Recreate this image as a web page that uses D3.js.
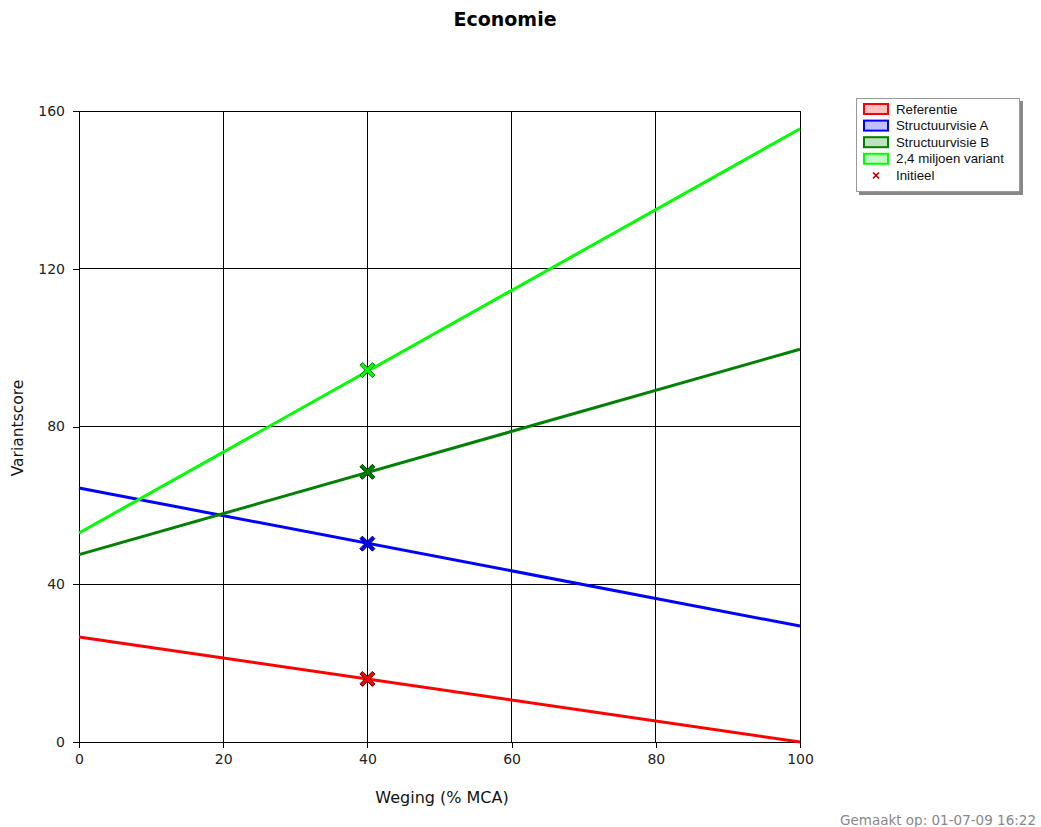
<!DOCTYPE html>
<html>
<head>
<meta charset="utf-8">
<script src="https://cdn.jsdelivr.net/npm/d3@7"></script>
<style>
  html, body { margin: 0; padding: 0; background: #fff; }
  svg { display: block; }
</style>
</head>
<body>
<svg id="chart" width="1041" height="827"></svg>
<script>
// Weights at the ends of each line (% MCA)
const weights = [0, 100];
// Score of each variant at weight 0 and weight 100
const seriesNames = ["Referentie", "Structuurvisie A", "Structuurvisie B", "2,4 miljoen variant"];
const referentie = [26.6, 0];
const structuurvisieA = [64.4, 29.4];
const structuurvisieB = [47.5, 99.6];
const miljoenVariant = [53.0, 155.5];
// Initial weight and the score of each variant at it
const initialWeight = 40;
const initialScores = [16.0, 50.3, 68.5, 94.3];
// Axis ticks
const xTicks = [0, 20, 40, 60, 80, 100];
const yTicks = [0, 40, 80, 120, 160];

const lineColors = ["#ff0000", "#0000ff", "#008000", "#00ff00"];
const fillColors = ["#ffc0c0", "#c0c0ff", "#c0e0c0", "#c0ffc0"];
const markerStroke = ["#700000", "#000070", "#004000", "#207020"];
const seriesValues = [referentie, structuurvisieA, structuurvisieB, miljoenVariant];

const svg = d3.select("#chart");
const plot = { left: 79, right: 800, top: 111, bottom: 742 };

const x = d3.scaleLinear().domain([0, 100]).range([plot.left, plot.right]);
const y = d3.scaleLinear().domain([0, 160]).range([plot.bottom, plot.top]);

const font = "'DejaVu Sans', Verdana, sans-serif";

// Title
svg.append("text")
  .attr("x", 505).attr("y", 26)
  .attr("text-anchor", "middle")
  .style("font-family", font)
  .style("font-weight", "bold")
  .style("font-size", "19px")
  .text("Economie");

// Grid lines
const grid = svg.append("g").attr("shape-rendering", "crispEdges");
grid.selectAll(".gx").data(xTicks.filter(d => d > 0)).enter().append("line")
  .attr("x1", d => x(d)).attr("x2", d => x(d))
  .attr("y1", plot.top).attr("y2", plot.bottom)
  .attr("stroke", "#000").attr("stroke-width", 1);
grid.selectAll(".gy").data(yTicks.filter(d => d > 0)).enter().append("line")
  .attr("x1", plot.left).attr("x2", plot.right)
  .attr("y1", d => y(d)).attr("y2", d => y(d))
  .attr("stroke", "#000").attr("stroke-width", 1);

// Axes
const xAxis = svg.append("g")
  .attr("transform", `translate(0,${plot.bottom})`)
  .attr("shape-rendering", "crispEdges")
  .call(d3.axisBottom(x).tickValues(xTicks).tickSize(6).tickPadding(6));
const yAxis = svg.append("g")
  .attr("transform", `translate(${plot.left},0)`)
  .attr("shape-rendering", "crispEdges")
  .call(d3.axisLeft(y).tickValues(yTicks).tickSize(6).tickPadding(8));
[xAxis, yAxis].forEach(a => {
  a.select(".domain").attr("stroke", "#000").attr("d", null);
  a.selectAll(".tick line").attr("stroke", "#000");
  a.selectAll("text")
    .style("font-family", font)
    .style("font-size", "14px")
    .attr("fill", "#222");
});
// Axis lines through the full plot extent
xAxis.append("line").attr("x1", plot.left - 6).attr("x2", plot.right).attr("y1", 0).attr("y2", 0).attr("stroke", "#000");
yAxis.append("line").attr("x1", 0).attr("x2", 0).attr("y1", plot.top).attr("y2", plot.bottom + 6).attr("stroke", "#000");

// Axis titles
svg.append("text")
  .attr("x", 442).attr("y", 803)
  .attr("text-anchor", "middle")
  .style("font-family", font)
  .style("font-size", "16px")
  .attr("fill", "#111")
  .text("Weging (% MCA)");
svg.append("text")
  .attr("transform", "translate(23,428) rotate(-90)")
  .attr("text-anchor", "middle")
  .style("font-family", font)
  .style("font-size", "15.5px")
  .attr("fill", "#111")
  .text("Variantscore");

// Variant lines
const line = d3.line().x(d => x(d[0])).y(d => y(d[1]));
seriesValues.forEach((vals, i) => {
  svg.append("path")
    .datum(weights.map((w, j) => [w, vals[j]]))
    .attr("d", line)
    .attr("fill", "none")
    .attr("stroke", lineColors[i])
    .attr("stroke-width", 3);
});

// Initial-weight markers (thick crosses)
const crossPath = (cx, cy, r, w) => {
  const h = w / 2;
  const p = [
    [-r, -r + h], [-r + h, -r], [0, -h], [r - h, -r], [r, -r + h], [h, 0],
    [r, r - h], [r - h, r], [0, h], [-r + h, r], [-r, r - h], [-h, 0]
  ];
  return "M" + p.map(q => [cx + q[0], cy + q[1]].join(",")).join("L") + "Z";
};
initialScores.forEach((v, i) => {
  svg.append("path")
    .attr("d", crossPath(x(initialWeight), y(v), 7.5, 5))
    .attr("fill", lineColors[i])
    .attr("stroke", markerStroke[i])
    .attr("stroke-width", 1);
});

// Legend
const legend = svg.append("g").attr("transform", "translate(856,98)");
legend.append("rect")
  .attr("x", 3).attr("y", 3).attr("width", 164).attr("height", 94)
  .attr("fill", "#888");
legend.append("rect")
  .attr("x", 0.5).attr("y", 0.5).attr("width", 163).attr("height", 93)
  .attr("fill", "#fff").attr("stroke", "#999");
const rowY = d => 11 + d * 16.6;
const legendFont = "'Liberation Sans', Arial, sans-serif";
seriesNames.forEach((name, i) => {
  legend.append("rect")
    .attr("x", 8).attr("y", rowY(i) - 5).attr("width", 24).attr("height", 10)
    .attr("fill", fillColors[i]).attr("stroke", lineColors[i]).attr("stroke-width", 2);
  legend.append("text")
    .attr("x", 40).attr("y", rowY(i) + 4.5)
    .style("font-family", legendFont)
    .style("font-size", "13.3px")
    .attr("fill", "#111")
    .text(name);
});
legend.append("path")
  .attr("d", crossPath(20, rowY(4), 3.5, 2.2))
  .attr("fill", "#c00000");
legend.append("text")
  .attr("x", 40).attr("y", rowY(4) + 4.5)
  .style("font-family", legendFont)
  .style("font-size", "13.3px")
  .attr("fill", "#111")
  .text("Initieel");

// Timestamp
svg.append("text")
  .attr("x", 1036).attr("y", 825)
  .attr("text-anchor", "end")
  .style("font-family", font)
  .style("font-size", "13.5px")
  .attr("fill", "#888")
  .text("Gemaakt op: 01-07-09 16:22");
</script>
</body>
</html>
